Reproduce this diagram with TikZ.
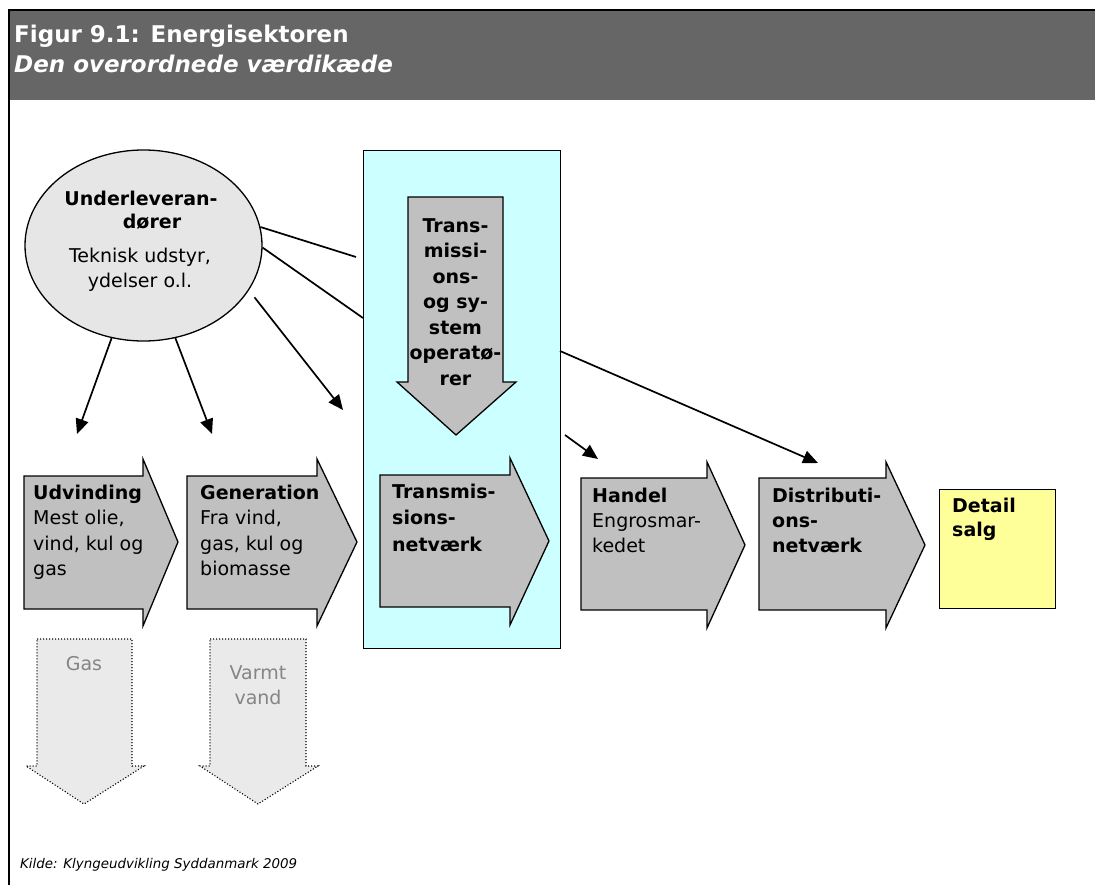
\documentclass[tikz,border=0pt]{standalone}
\usepackage{fontspec}
\setmainfont{DejaVu Sans}
\usetikzlibrary{shapes.geometric,arrows.meta}

\definecolor{hdrgray}{HTML}{666666}
\definecolor{ellfill}{HTML}{E6E6E6}
\definecolor{chevgray}{HTML}{C0C0C0}
\definecolor{tsocyan}{HTML}{CCFFFF}
\definecolor{retail}{HTML}{FFFF99}
\definecolor{dotfill}{HTML}{EAEAEA}
\definecolor{dottext}{HTML}{858585}

% strut that fixes the first baseline 15pt below a node's top edge
\newcommand{\topstrut}{\rule{0pt}{15pt}}

\tikzset{
  body/.style={font=\fontsize{19}{25.5}\selectfont},
  lbl/.style={anchor=north west, inner sep=0pt, align=left, body},
  clbl/.style={anchor=north, inner sep=0pt, align=center, body},
  conn/.style={line width=1.7pt},
  arr/.style={conn, -{Triangle[length=15pt,width=13pt]}},
  chev/.style={draw, line width=1.3pt, fill=chevgray, line join=miter},
  dotarr/.style={draw=black, line width=1.1pt, dash pattern=on 1.1pt off 1.9pt,
                 fill=dotfill},
}

\begin{document}
\begin{tikzpicture}[x=1pt,y=-1pt]
\useasboundingbox (0,0) rectangle (1095,885);

% frame and heading band
\fill[hdrgray] (9,10) rectangle (1095,100);
\draw[line width=1.5pt] (9,885) -- (9,10) -- (1095,10);
\node[anchor=base west, inner sep=0pt, text=white,
      font=\fontsize{23}{27}\selectfont\bfseries] (title) at (14,43)
      {Figur 9.1: Energisektoren};
\node[anchor=base west, inner sep=0pt, text=white,
      font=\fontsize{23}{27}\selectfont\bfseries\itshape] (subtitle) at (14,73)
      {Den overordnede værdikæde};

% transmission system operator column
\node[draw, line width=1.3pt, fill=tsocyan, anchor=north west, inner sep=0pt,
      minimum width=197pt, minimum height=498pt] (tsobox) at (363,150) {};
\path[chev] (408,197) -- (503,197) -- (503,382) -- (516,382) -- (456,435)
            -- (397,382) -- (408,382) -- cycle;
\node[clbl, font=\fontsize{19}{25.5}\selectfont\bfseries] (tso) at (455.5,217)
  {\topstrut Trans-\\missi-\\ons-\\og sy-\\stem\\operatø-\\rer};

% sub-suppliers
\node[ellipse, draw, line width=1.3pt, fill=ellfill, inner sep=0pt,
      minimum width=237pt, minimum height=191pt] (sup) at (143.5,245.5) {};
\node[clbl, font=\fontsize{19}{23.5}\selectfont\bfseries] (suphead) at (141,190)
  {\topstrut Underleveran-\\\hspace*{22pt}dører};
\node[clbl] (supbody) at (140,247)
  {\topstrut Teknisk udstyr,\\ydelser o.l.};

% value chain arrows
\path[chev] (24,476) -- (143,476) -- (143,459) -- (178,542) -- (143,626)
            -- (143,609) -- (24,609) -- cycle;
\path[chev] (187,476) -- (317,476) -- (317,459) -- (357,542) -- (317,626)
            -- (317,609) -- (187,609) -- cycle;
\path[chev] (380,475) -- (510,475) -- (510,458) -- (549,541) -- (510,625)
            -- (510,607) -- (380,607) -- cycle;
\path[chev] (581,478) -- (707,478) -- (707,462) -- (745,545) -- (707,628)
            -- (707,610) -- (581,610) -- cycle;
\path[chev] (759,478) -- (886,478) -- (886,462) -- (925,545) -- (886,628)
            -- (886,610) -- (759,610) -- cycle;
\node[draw, line width=1.3pt, fill=retail, anchor=north west, inner sep=0pt,
      minimum width=116pt, minimum height=119pt] (detailbox) at (939,489) {};

\node[lbl] (udv) at (33,484)
  {\topstrut\textbf{Udvinding}\\Mest olie,\\vind, kul og\\gas};
\node[lbl] (gen) at (200,484)
  {\topstrut\textbf{Generation}\\Fra vind,\\gas, kul og\\biomasse};
\node[lbl, font=\fontsize{19}{26.5}\selectfont\bfseries] (tnet) at (392,483)
  {\topstrut Transmis-\\sions-\\netværk};
\node[lbl, font=\fontsize{19}{25}\selectfont] (handel) at (592,487)
  {\topstrut\textbf{Handel}\\Engrosmar-\\kedet};
\node[lbl, font=\fontsize{19}{25}\selectfont\bfseries] (dist) at (772,487)
  {\topstrut Distributi-\\ons-\\netværk};
\node[lbl, font=\fontsize{19}{24.5}\selectfont\bfseries] (detail) at (952,497)
  {\topstrut Detail\\salg};

% by-products
\path[dotarr] (37,639) -- (132,639) -- (132,766) -- (144,766) -- (84,804)
              -- (26,766) -- (37,766) -- cycle;
\path[dotarr] (210,639) -- (306,639) -- (306,766) -- (318,766) -- (258,804)
              -- (200,766) -- (210,766) -- cycle;
\node[clbl, text=dottext] (gas) at (84,655) {\topstrut Gas};
\node[clbl, text=dottext] (vand) at (258,664) {\topstrut Varmt\\vand};

% connector end points
\coordinate (l1end) at (356,257);
\coordinate (l2end) at (363,318);
\coordinate (a3end) at (343,410);
\coordinate (a4end) at (77,434);
\coordinate (a5end) at (212,434);
\coordinate (a6start) at (565,435);
\coordinate (a6end) at (598,459);
\coordinate (a7start) at (560,351);
\coordinate (a7end) at (818,463);

\draw[conn] (sup.9) -- (l1end);
\draw[conn] (sup.-1) -- (l2end);
\draw[arr, shorten <=9pt] (sup.-23) -- (a3end);
\draw[arr] (sup.-109) -- (a4end);
\draw[arr] (sup.-71) -- (a5end);
\draw[arr] (a6start) -- (a6end);
\draw[arr] (a7start) -- (a7end);

% source line
\node[anchor=base west, inner sep=0pt, font=\fontsize{13.4}{15}\selectfont\itshape]
  (src) at (20,868) {Kilde: Klyngeudvikling Syddanmark 2009};
\end{tikzpicture}
\end{document}
